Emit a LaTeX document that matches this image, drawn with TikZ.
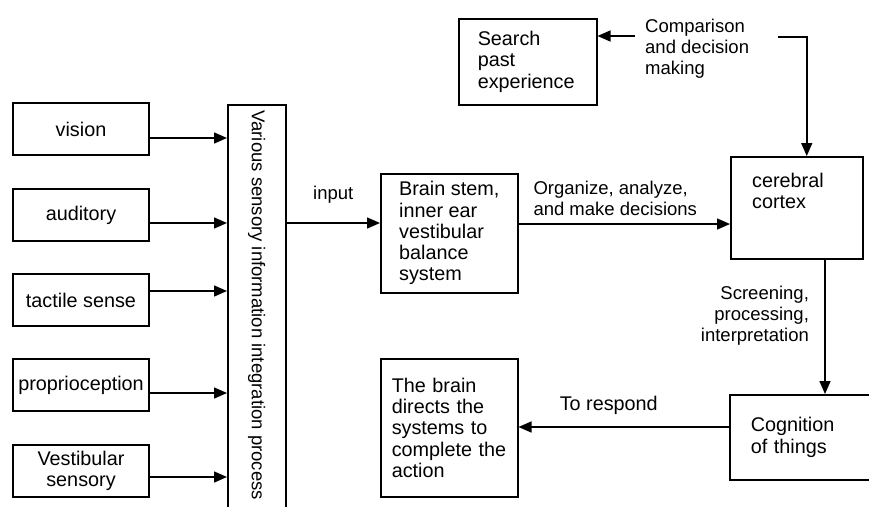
\documentclass[tikz,border=0pt]{standalone}
\usepackage{fontspec}
\setmainfont{Liberation Sans}
\usetikzlibrary{arrows.meta}

\tikzset{
    box/.style={draw, line width=1.5pt, inner sep=0pt, font=\fontsize{19.8}{21.3}\selectfont},
    lbox/.style={box, align=left, inner xsep=21pt, text width=#1},
    arr/.style={line width=1.5pt, -{Triangle[length=13pt, width=11pt]}}
}

\begin{document}
\begin{tikzpicture}[x=1pt, y=-1pt, font=\fontsize{18.5}{21}\selectfont]
            \useasboundingbox (0,0) rectangle (869,506);
            \clip (0,0) rectangle (869,506);

            \foreach \n/\t/\y in {vision/vision/129, auditory/auditory/215, tactile/tactile sense/300, proprio/proprioception/385, vestib/{Vestibular\\sensory}/471} {
                \node[box, minimum width=136pt, minimum height=52pt, align=center] (\n) at (81,\y) {\t};
            }

            \node[box, minimum width=58pt, minimum height=440pt, anchor=north west] (integ) at (227,104) {};
            \node[rotate=-90, anchor=west] (integtext) at ([yshift=-3pt]integ.north) {Various sensory information integration process};

            \foreach \n/\y in {vision/138, auditory/223, tactile/291, proprio/393, vestib/477} {
                \draw[arr] (\n.east |- 0,\y) -- (integ.west |- 0,\y);
            }

            \node[box, align=left, minimum width=137pt, minimum height=119pt, anchor=north west] (stem) at (380,173) {Brain stem,\\inner ear\\vestibular\\balance\\system};
            \draw[arr] (integ.east |- 0,223) -- (stem.west |- 0,223) node[midway, above=16pt] {input};

            \node[box, minimum width=132pt, minimum height=102pt, anchor=north west] (cortex) at (730,156) {};
            \node[anchor=north west, align=left, inner sep=0pt, font=\fontsize{19.8}{21.3}\selectfont] (cortextext) at ([shift={(22,17)}]cortex.north west) {cerebral\\cortex};
            \draw[arr] (stem.east |- 0,224) -- (cortex.west |- 0,224) node[midway, above=4pt, xshift=-9pt, align=left] {Organize, analyze,\\and make decisions};

            \node[lbox=100pt, inner xsep=19pt, minimum height=86pt, anchor=north west] (search) at (458,18) {Search\\past\\experience};
            \node[anchor=north west, align=left, inner sep=0pt] (compare) at (645,19) {Comparison\\and decision\\making};
            \coordinate (cmpL) at (635,36);
            \coordinate (cmpR) at (778,37);
            \draw[arr] (cmpL) -- (search.east |- cmpL);
            \draw[arr] (cmpR) -| ([xshift=10pt]cortex.north);

            \node[lbox=109pt, minimum height=85pt, anchor=north west] (cog) at (729,394) {Cognition\\of things};
            \draw[arr] (cortex.south -| 825,0) -- (cog.north -| 825,0) node[pos=0.42, left=12pt, align=right] {Screening,\\processing,\\interpretation};

            \node[lbox=115pt, inner xsep=11pt, minimum height=138pt, anchor=north west] (action) at (380,358) {The brain\\directs the\\systems to\\complete the\\action};
            \draw[arr] (cog.west |- 0,427) -- (action.east |- 0,427) node[midway, above=8pt, xshift=-15pt, font=\fontsize{19.8}{21.3}\selectfont] {To respond};
        \end{tikzpicture}
\end{document}
